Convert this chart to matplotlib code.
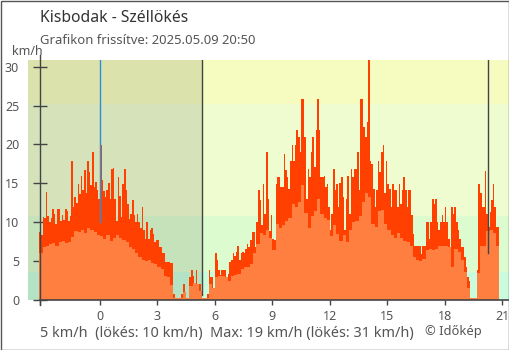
import numpy as np
import matplotlib
matplotlib.use("Agg")
import matplotlib.pyplot as plt
from matplotlib.patches import Rectangle

plt.rcParams["font.family"] = ["Noto Sans", "DejaVu Sans"]

# ---- texts -------------------------------------------------------------
TITLE = "Kisbodak - Széllökés"
UPDATED = "Grafikon frissítve: 2025.05.09 20:50"
FOOTER = "5 km/h  (lökés: 10 km/h)  Max: 19 km/h (lökés: 31 km/h)"
CREDIT = "© Időkép"
UNIT = "km/h"

# ---- time base (hours relative to midnight of 2025.05.09) --------------
START_HOUR = -19 / 6          # 20:50 on the previous evening
GUST_STEP_MIN = 5
WIND_STEP_MIN = 10
SUNRISE_HOUR = 5.32
SUNSET_HOUR = 20.24

# ---- measurements (km/h) ----------------------------------------------
gust_kmh = [
    8.7, 8.3, 10.7, 10.5, 13.9, 10.8, 10.0, 10.6, 11.7, 11.0,
    9.8, 11.7, 11.7, 10.2, 10.9, 10.3, 11.7, 11.4, 10.2, 10.8,
    17.9, 11.9, 13.2, 12.5, 14.9, 13.6, 16.0, 14.2, 16.7, 13.8,
    17.9, 16.4, 14.8, 19.0, 14.5, 15.2, 14.1, 13.0, 19.9, 15.4,
    14.0, 13.2, 14.1, 15.0, 13.0, 16.9, 17.0, 13.0,
    10.2, 15.8, 13.4, 10.7, 14.9, 16.9, 14.1, 12.4, 10.4, 11.1,
    12.8, 10.9, 10.0, 11.1, 10.0, 9.2, 11.9, 9.0, 7.9, 10.0,
    7.9, 9.0, 9.2, 8.5, 7.4, 7.7, 7.7, 6.8, 6.8, 6.0,
    6.0, 4.9, 4.9, 4.9, 4.7, 4.7, 0.8, 0.3, 0.3, 0.3,
    0.3, 0.8, 2.1, 0.3, 0.3, 0.3, 2.9, 3.8, 3.1, 1.5,
    3.9, 2.1, 2.1, 1.0, 0.3, 0.3, 0.3, 0.8, 3.9, 2.9,
    2.9, 0.3, 6.0, 5.2, 3.8, 3.2, 3.8, 3.8, 3.8, 1.0,
    3.4, 4.9, 5.2, 6.0, 5.6, 6.2, 7.0, 5.2, 6.0, 6.2,
    6.0, 6.5, 7.2, 6.8, 7.7, 8.7, 8.7, 6.8, 10.0, 14.1,
    12.8, 9.6, 14.9, 11.1, 19.0, 13.0, 8.9, 10.9, 7.9, 7.7,
    14.9, 15.8, 15.8, 14.5, 14.5, 18.8, 16.7, 15.8, 14.3, 17.9,
    19.9, 17.9, 19.9, 21.8, 20.9, 19.0, 25.9, 25.9, 20.9, 13.0,
    16.9, 15.8, 19.0, 20.9, 17.1, 21.8, 25.9, 21.8, 15.8, 15.8,
    16.0, 14.5, 14.9, 12.0, 9.0, 11.1, 16.9, 14.1, 14.9, 12.0,
    15.1, 15.8, 13.2, 9.0, 13.0, 16.0, 11.1, 16.9, 15.8, 16.9,
    16.9, 19.0, 14.1, 25.9, 25.9, 22.2, 20.9, 22.9, 31.0, 17.9,
    17.5, 14.3, 12.0, 14.1, 17.9, 16.4, 19.0, 19.9, 13.7, 17.9,
    14.9, 14.3, 12.0, 14.9, 14.1, 14.1, 12.0, 14.9, 12.4, 14.1,
    15.8, 14.1, 12.0, 14.1, 14.1, 10.9, 8.5, 7.0, 7.0, 7.0,
    7.0, 5.9, 7.0, 7.0, 10.0, 10.0, 7.9, 10.0, 13.0, 12.4,
    13.0, 10.0, 9.0, 10.0, 10.9, 10.0, 12.0, 10.0, 7.9, 5.1,
    12.0, 11.0, 12.0, 10.0, 9.0, 7.9, 6.8, 6.8, 5.5, 4.2,
    2.9, 2.5, 0.3, 0.3, 0.3, 0.3, 3.8, 14.9, 13.7, 12.0,
    12.0, 16.6, 11.0, 9.4, 11.3, 12.8, 14.9, 12.0, 9.4, 9.4,
]

wind_kmh = [
    6.1, 6.8, 7.0, 7.2, 7.3, 7.0, 7.5, 7.6, 7.3, 7.5,
    8.1, 8.9, 8.7, 9.0, 8.6, 9.2, 9.0, 8.8, 8.4, 8.2,
    7.8, 8.3, 7.6, 8.0,
    8.3, 8.0, 7.7, 7.4, 6.8, 6.6, 6.0, 5.5, 5.1, 5.0,
    5.2, 4.7, 4.6, 4.3, 4.0, 3.1, 3.0, 1.9, 0.3, 0.3,
    0.3, 1.0, 0.3, 1.8, 2.2,
    2.1, 1.2, 0.3, 0.3, 2.0, 1.5, 2.9, 3.1, 3.1, 3.0,
    2.5, 3.1, 3.2, 3.4, 4.0, 4.2, 4.3, 4.6, 6.0, 7.2,
    8.6, 8.3, 9.0, 8.0, 6.4,
    9.8, 9.2, 9.6, 10.2, 10.6, 12.4, 12.0, 12.6, 14.8, 11.2,
    9.3, 10.8, 11.5, 13.0, 11.0, 10.6, 10.3, 8.2, 9.6, 8.5,
    7.6, 8.4, 7.4, 9.0, 10.0,
    10.2, 10.8, 12.6, 13.8, 13.2, 9.8, 9.4, 11.4, 11.6, 9.8,
    9.0, 8.4, 8.0, 8.6, 8.0, 7.6, 7.4, 7.0, 5.5, 5.2,
    5.0, 5.3, 6.4, 6.6, 6.4,
    6.6, 6.9, 6.9, 7.0, 6.8, 4.3, 6.6, 6.2, 5.1, 3.6,
    1.6, 0.3, 0.3, 3.5, 6.9, 7.0, 8.9, 9.0, 8.6, 6.9,
]

x_ticks = [0, 3, 6, 9, 12, 15, 18, 21]
y_ticks = [0, 5, 10, 15, 20, 25, 30]

# wind-strength background bands (km/h) and their colours
band_edges = [0, 3.6, 10.8, 25.2, 40]
band_colors = ["#c8fcdc", "#dcfcd0", "#eefcd0", "#f6fcc0"]

GUST_COLOR = "#ff4000"
WIND_COLOR = "#ff7f40"
AXIS_COLOR = "#444444"
TEXT_COLOR = "#555555"
MIDNIGHT_COLOR = "#2a8fd8"

X_MIN, X_MAX = -3.76, 21.35
Y_MIN, Y_MAX = 0, 30.86
AXIS_X = -3.13              # where the value axis stands

W, H = 510, 350
fig = plt.figure(figsize=(W / 100, H / 100), dpi=100)
ax = fig.add_axes([28 / W, (H - 300) / H, (509 - 28) / W, (300 - 60) / H])
ax.set_xlim(X_MIN, X_MAX)
ax.set_ylim(Y_MIN, Y_MAX)

for lo, hi, c in zip(band_edges[:-1], band_edges[1:], band_colors):
    ax.axhspan(lo, hi, color=c, lw=0, zorder=0)
# darker shading for the night before sunrise
ax.axvspan(X_MIN, SUNRISE_HOUR, color="black", alpha=0.1, lw=0, zorder=0.5)

t_gust = START_HOUR + np.arange(len(gust_kmh)) * GUST_STEP_MIN / 60
t_wind = START_HOUR + np.arange(len(wind_kmh)) * WIND_STEP_MIN / 60
ax.bar(t_gust, gust_kmh, width=GUST_STEP_MIN / 60, align="edge",
       color=GUST_COLOR, lw=0, zorder=2, antialiased=False)
ax.bar(t_wind, wind_kmh, width=WIND_STEP_MIN / 60, align="edge",
       color=WIND_COLOR, lw=0, zorder=3, antialiased=False)

# midnight, sunrise and sunset markers
ax.plot([0, 0], [10.0, Y_MAX], color=MIDNIGHT_COLOR, lw=1, zorder=4)
ax.plot([SUNRISE_HOUR] * 2, [0.6, Y_MAX], color=AXIS_COLOR, lw=1, zorder=4)
ax.plot([SUNSET_HOUR] * 2, [6.0, Y_MAX], color=AXIS_COLOR, lw=1, zorder=4)

for s in ax.spines.values():
    s.set_visible(False)

# axis lines
ax.plot([AXIS_X, AXIS_X], [-0.64, 31.5], color=AXIS_COLOR, lw=1,
        clip_on=False, zorder=5)
ax.plot([AXIS_X, X_MAX], [0, 0], color=AXIS_COLOR, lw=1.2,
        clip_on=False, zorder=5)

# value axis ticks cross the axis line
ax.set_yticks(y_ticks)
ax.set_yticklabels([str(v) for v in y_ticks])
ax.spines["left"].set_position(("data", AXIS_X))
ax.tick_params(axis="y", direction="inout", length=10, width=1,
               color=AXIS_COLOR, labelcolor=TEXT_COLOR, labelsize=9, pad=10)

ax.set_xticks([AXIS_X] + x_ticks)
ax.set_xticklabels([""] + [str(v) for v in x_ticks])
ax.tick_params(axis="x", direction="out", length=3.6, width=1,
               color=AXIS_COLOR, labelcolor=TEXT_COLOR, labelsize=9, pad=3.5)
for tick, loc in zip(ax.xaxis.get_major_ticks(), [AXIS_X] + x_ticks):
    if loc == 0:
        tick.tick1line.set_color(MIDNIGHT_COLOR)

# texts
fig.text(40 / W, 1 - 18 / H, TITLE, ha="left", va="center",
         fontsize=11.3, color="#333333")
fig.text(40 / W, 1 - 40.5 / H, UPDATED, ha="left", va="center",
         fontsize=9.4, color=TEXT_COLOR)
fig.text(12 / W, 1 - 51.5 / H, UNIT, ha="left", va="center",
         fontsize=9, color=TEXT_COLOR)
fig.text(40 / W, 1 - 334 / H, FOOTER, ha="left", va="center",
         fontsize=10.4, color=TEXT_COLOR)
fig.text(425 / W, 1 - 331 / H, CREDIT, ha="left", va="center",
         fontsize=9.3, color=TEXT_COLOR)

fig.add_artist(Rectangle((0.5 / W, 0.5 / H), (W - 1) / W, (H - 1) / H,
                         transform=fig.transFigure, fill=False,
                         edgecolor="#555555", lw=1))

fig.savefig("out.png", dpi=100)
